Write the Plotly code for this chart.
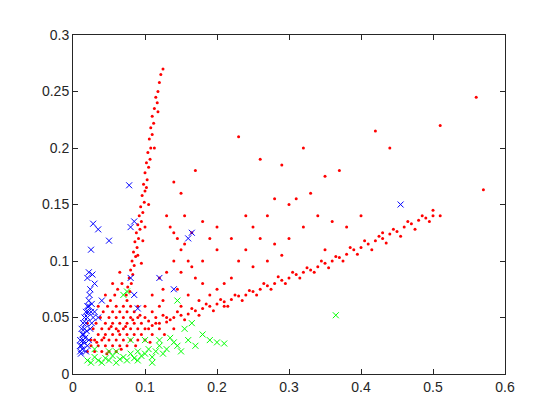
import plotly.graph_objects as go

# red dots
red_x = [0.125,0.122,0.12,0.118,0.115,0.117,0.113,0.118,0.11,0.112,0.108,0.11,0.106,0.108,0.104,0.107,0.102,0.105,0.1,0.103,0.098,0.1,0.096,0.099,0.094,0.097,0.092,0.095,0.09,0.093,0.088,0.091,0.086,0.089,0.084,0.087,0.082,0.085,0.08,0.083,0.078,0.081,0.076,0.079,0.074,0.1,0.105,0.097,0.113,0.102,0.09,0.095,
         0.13,0.135,0.14,0.145,0.15,0.155,0.16,0.165,0.14,0.15,0.17,0.18,0.13,0.12,0.125,0.145,0.16,0.175,0.19,0.2,0.21,0.22,0.155,0.18,0.19,0.2,0.165,0.14,0.15,0.17,
         0.23,0.26,0.29,0.32,0.35,0.37,0.42,0.44,0.51,0.56,0.57,0.25,0.27,0.28,0.3,0.31,0.33,0.34,0.26,0.28,0.3,0.22,0.24,0.23,0.25,0.27,0.29,0.36,0.38,0.4,0.43,0.5,0.51,0.21,0.2,0.18,0.24,0.32,0.35,
         0.1,0.11,0.12,0.13,0.14,0.15,0.16,0.17,0.18,0.19,0.2,0.21,0.22,0.23,0.24,0.25,0.26,0.27,0.28,0.29,0.3,0.31,0.32,0.33,0.34,0.35,0.36,0.37,0.38,0.39,0.4,0.41,0.42,0.43,0.44,0.45,0.46,0.47,0.48,0.49,0.5,
         0.105,0.115,0.125,0.135,0.145,0.155,0.165,0.175,0.185,0.195,0.205,0.215,0.225,0.235,0.245,0.255,0.265,0.275,0.285,0.295,0.305,0.315,0.325,0.335,0.345,0.355,0.365,0.375,0.385,0.395,0.405,0.415,0.425,0.435,0.445,0.455,0.465,0.475,0.485,0.495,
         0.02,0.025,0.03,0.03,0.035,0.035,0.04,0.04,0.04,0.045,0.045,0.045,0.05,0.05,0.05,0.05,0.055,0.055,0.055,0.055,0.06,0.06,0.06,0.06,0.06,0.065,0.065,0.065,0.065,0.07,0.07,0.07,0.07,0.075,0.075,0.075,0.075,0.075,0.08,0.08,0.08,0.08,0.085,0.085,0.085,0.09,0.09,0.09,0.09,0.095,0.095,0.1,0.1,0.1,0.105,0.11,0.11,0.115,0.12,0.12,
         0.028,0.032,0.038,0.042,0.048,0.052,0.058,0.062,0.068,0.025,0.033,0.043,0.053,0.063,0.073,0.083,0.093,0.047,0.067,0.087,0.107,0.127,0.13,0.14,0.15,0.035,0.045,0.055,0.065,0.02,0.11,0.125]
red_y = [0.27,0.265,0.258,0.25,0.245,0.24,0.235,0.232,0.228,0.222,0.218,0.212,0.208,0.2,0.196,0.19,0.187,0.183,0.178,0.172,0.168,0.162,0.158,0.152,0.148,0.143,0.14,0.135,0.132,0.128,0.125,0.12,0.117,0.112,0.108,0.104,0.1,0.096,0.092,0.088,0.085,0.08,0.077,0.073,0.07,0.13,0.15,0.118,0.2,0.165,0.105,0.098,
         0.14,0.13,0.125,0.12,0.11,0.115,0.1,0.095,0.1,0.09,0.085,0.08,0.09,0.085,0.075,0.075,0.07,0.065,0.07,0.075,0.08,0.085,0.14,0.135,0.12,0.11,0.125,0.17,0.16,0.18,
         0.21,0.19,0.185,0.2,0.175,0.18,0.215,0.2,0.22,0.245,0.163,0.13,0.14,0.155,0.15,0.155,0.16,0.14,0.12,0.115,0.12,0.12,0.11,0.1,0.095,0.1,0.105,0.135,0.13,0.14,0.125,0.145,0.14,0.06,0.13,0.1,0.14,0.13,0.11,
         0.04,0.043,0.045,0.046,0.05,0.052,0.053,0.056,0.058,0.06,0.062,0.064,0.066,0.069,0.07,0.073,0.075,0.078,0.08,0.083,0.085,0.088,0.09,0.092,0.095,0.098,0.1,0.103,0.106,0.11,0.112,0.115,0.118,0.12,0.124,0.126,0.13,0.133,0.136,0.138,0.14,
         0.047,0.05,0.052,0.048,0.055,0.048,0.058,0.052,0.062,0.056,0.066,0.06,0.07,0.065,0.074,0.07,0.08,0.075,0.086,0.08,0.09,0.085,0.094,0.09,0.1,0.094,0.104,0.1,0.112,0.106,0.118,0.11,0.122,0.116,0.128,0.122,0.135,0.128,0.14,0.135,
         0.02,0.025,0.02,0.03,0.025,0.035,0.02,0.03,0.04,0.025,0.035,0.045,0.02,0.03,0.04,0.05,0.025,0.035,0.045,0.055,0.02,0.03,0.04,0.05,0.06,0.025,0.035,0.045,0.055,0.03,0.04,0.05,0.06,0.025,0.035,0.045,0.055,0.065,0.03,0.04,0.05,0.06,0.035,0.045,0.055,0.03,0.04,0.05,0.06,0.035,0.045,0.03,0.05,0.06,0.04,0.035,0.055,0.045,0.04,0.06,
         0.04,0.045,0.05,0.055,0.06,0.065,0.07,0.075,0.08,0.03,0.028,0.032,0.042,0.038,0.042,0.048,0.052,0.018,0.022,0.025,0.028,0.035,0.05,0.04,0.06,0.06,0.07,0.08,0.09,0.045,0.07,0.065]

# blue crosses
blue_x = [0.01,0.012,0.014,0.015,0.016,0.018,0.02,0.021,0.022,0.022,0.023,0.024,0.02,0.022,0.011,0.013,0.015,0.017,0.019,0.012,0.014,0.016,0.018,0.02,0.025,0.026,0.01,0.01,0.013,0.018,0.02,0.022,0.024,0.026,0.028,0.03,0.035,0.027,0.03,0.025,0.028,0.035,0.05,0.078,0.08,0.085,0.08,0.085,0.09,0.16,0.165,0.14,0.12,0.455,0.04]
blue_y = [0.02,0.025,0.03,0.035,0.04,0.045,0.05,0.055,0.06,0.065,0.07,0.075,0.085,0.09,0.018,0.022,0.028,0.032,0.038,0.04,0.045,0.05,0.055,0.06,0.055,0.062,0.03,0.025,0.035,0.02,0.025,0.03,0.04,0.045,0.05,0.055,0.05,0.088,0.08,0.11,0.133,0.128,0.118,0.167,0.13,0.135,0.085,0.07,0.058,0.12,0.125,0.075,0.085,0.15,0.065]

# green crosses
green_x = [0.02,0.025,0.03,0.035,0.04,0.045,0.05,0.055,0.06,0.065,0.07,0.075,0.08,0.085,0.09,0.095,0.1,0.105,0.11,0.115,0.12,0.125,0.13,0.14,0.15,0.16,0.17,0.18,0.19,0.2,0.21,0.12,0.135,0.145,0.155,0.165,0.07,0.075,0.145,0.365,0.08,0.1,0.06,0.09,0.03,0.11,0.05]
green_y = [0.012,0.01,0.015,0.012,0.01,0.014,0.012,0.016,0.01,0.013,0.015,0.012,0.018,0.014,0.02,0.016,0.018,0.022,0.015,0.02,0.025,0.018,0.022,0.028,0.02,0.03,0.025,0.035,0.03,0.028,0.027,0.03,0.032,0.025,0.04,0.045,0.07,0.073,0.065,0.052,0.03,0.03,0.02,0.012,0.022,0.01,0.02]

fig = go.Figure()
fig.add_trace(go.Scatter(x=red_x, y=red_y, mode="markers",
                         marker=dict(color="#ff0000", size=3)))
fig.add_trace(go.Scatter(x=green_x, y=green_y, mode="markers",
                         marker=dict(color="#00ff00", size=6, symbol="x-thin", line=dict(color="#00ff00", width=1))))
fig.add_trace(go.Scatter(x=blue_x, y=blue_y, mode="markers",
                         marker=dict(color="#0000ff", size=6, symbol="x-thin", line=dict(color="#0000ff", width=1))))

ax = dict(showgrid=False, zeroline=False, showline=True, mirror="ticks", linecolor="#262626",
          linewidth=1, ticks="inside", ticklen=5, tickcolor="#262626")
fig.update_layout(
    width=560, height=420, showlegend=False,
    plot_bgcolor="white", paper_bgcolor="white",
    margin=dict(l=65, r=63, t=27, b=54),
    font=dict(family="Liberation Sans", size=14, color="#262626"),
    xaxis=dict(range=[0, 0.6], dtick=0.1, **ax),
    yaxis=dict(range=[0, 0.3], dtick=0.05, **ax),
)
fig.write_html("out.html")
